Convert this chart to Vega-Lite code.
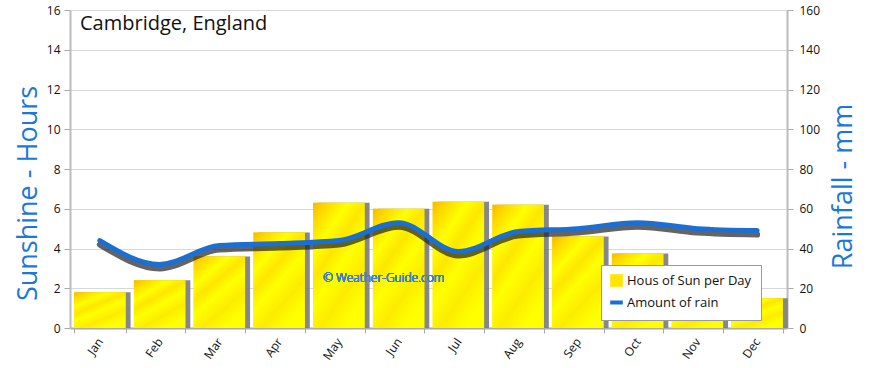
{
  "$schema": "https://vega.github.io/schema/vega-lite/v6.json",
  "autosize": "none",
  "width": 717,
  "height": 318,
  "padding": {"left": 70, "top": 10, "right": 83, "bottom": 40},
  "background": "white",
  "config": {
    "font": "Open Sans",
    "view": {"stroke": null},
    "axis": {"labelFont": "Open Sans", "titleFont": "Open Sans"}
  },
  "title": {
    "text": "Cambridge, England",
    "anchor": "start",
    "frame": "group",
    "orient": "top",
    "offset": -30,
    "dx": 10,
    "fontSize": 20,
    "fontWeight": "normal",
    "color": "#111111",
    "font": "Open Sans"
  },
  "data": {
    "values": [
      {"month": "Jan", "sun": 1.8, "rain": 44, "s1": "Hous of Sun per Day", "s2": "Amount of rain"},
      {"month": "Feb", "sun": 2.4, "rain": 32, "s1": "Hous of Sun per Day", "s2": "Amount of rain"},
      {"month": "Mar", "sun": 3.6, "rain": 41.5, "s1": "Hous of Sun per Day", "s2": "Amount of rain"},
      {"month": "Apr", "sun": 4.8, "rain": 42.5, "s1": "Hous of Sun per Day", "s2": "Amount of rain"},
      {"month": "May", "sun": 6.3, "rain": 44, "s1": "Hous of Sun per Day", "s2": "Amount of rain"},
      {"month": "Jun", "sun": 6.0, "rain": 53, "s1": "Hous of Sun per Day", "s2": "Amount of rain"},
      {"month": "Jul", "sun": 6.35, "rain": 38.5, "s1": "Hous of Sun per Day", "s2": "Amount of rain"},
      {"month": "Aug", "sun": 6.2, "rain": 48.5, "s1": "Hous of Sun per Day", "s2": "Amount of rain"},
      {"month": "Sep", "sun": 4.6, "rain": 50, "s1": "Hous of Sun per Day", "s2": "Amount of rain"},
      {"month": "Oct", "sun": 3.75, "rain": 53, "s1": "Hous of Sun per Day", "s2": "Amount of rain"},
      {"month": "Nov", "sun": 2.1, "rain": 50, "s1": "Hous of Sun per Day", "s2": "Amount of rain"},
      {"month": "Dec", "sun": 1.5, "rain": 49, "s1": "Hous of Sun per Day", "s2": "Amount of rain"}
    ]
  },
  "encoding": {
    "x": {
      "field": "month",
      "type": "nominal",
      "sort": null,
      "scale": {"paddingInner": 0.14, "paddingOuter": 0.07},
      "axis": {
        "title": null,
        "labelAngle": -55,
        "labelAlign": "right",
        "labelBaseline": "middle",
        "labelFontSize": 12,
        "labelColor": "#111111",
        "labelPadding": 6,
        "tickBand": "extent",
        "tickColor": "#aaaaaa",
        "tickSize": 5,
        "domainColor": "#aaaaaa",
        "domainWidth": 2
      }
    }
  },
  "layer": [
    {
      "encoding": {
        "y": {
          "field": "sun",
          "type": "quantitative",
          "scale": {"domain": [0, 16]},
          "axis": {
            "title": "Sunshine - Hours",
            "titleFontSize": 27,
            "titleFontWeight": "normal",
            "titleColor": "#1a78dc",
            "titleAngle": -90,
            "titleX": -42,
            "titleY": 183,
            "titleAlign": "center",
            "titleBaseline": "middle",
            "values": [0, 2, 4, 6, 8, 10, 12, 14, 16],
            "labelFontSize": 12,
            "labelColor": "#111111",
            "labelPadding": 4,
            "tickColor": "#aaaaaa",
            "tickSize": 6,
            "domainColor": "#bbbbbb",
            "domainWidth": 2,
            "grid": true,
            "gridColor": "#d8d8d8",
            "gridWidth": 1
          }
        }
      },
      "layer": [
        {
          "mark": {"type": "bar", "color": "#7a7a7a", "xOffset": 5, "opacity": 0.9}
        },
        {
          "mark": {"type": "bar"},
          "encoding": {
            "color": {
              "field": "s1",
              "type": "nominal",
              "scale": {"domain": ["Hous of Sun per Day", "Amount of rain"], "range": ["#ffe600", "#1a6fd6"]},
              "legend": {
                "title": null,
                "orient": "none",
                "legendX": 531,
                "legendY": 255,
                "fillColor": "white",
                "strokeColor": "#999999",
                "padding": 9,
                "labelFontSize": 13,
                "labelColor": "#111111",
                "labelLimit": 300,
                "symbolSize": 160,
                "rowPadding": 6,
                "symbolStrokeWidth": 4,
                "encode": {
                  "symbols": {
                    "update": {
                      "shape": {"signal": "datum.value === 'Amount of rain' ? 'stroke' : 'square'"},
                      "strokeWidth": {"signal": "datum.value === 'Amount of rain' ? 4 : 0"}
                    }
                  }
                }
              }
            }
          }
        },
        {
          "mark": {
            "type": "bar",
            "fill": {
              "gradient": "linear",
              "x1": 0, "y1": 0, "x2": 0.6, "y2": 1,
              "stops": [
                {"offset": 0, "color": "#f7b800"},
                {"offset": 0.12, "color": "#ffd800"},
                {"offset": 0.3, "color": "#ffff00"},
                {"offset": 0.45, "color": "#fde600"},
                {"offset": 0.6, "color": "#ffff00"},
                {"offset": 0.8, "color": "#fcec00"},
                {"offset": 1, "color": "#ffff00"}
              ]
            }
          }
        }
      ]
    },
    {
      "encoding": {
        "y": {
          "field": "rain",
          "type": "quantitative",
          "scale": {"domain": [0, 160]},
          "axis": {
            "orient": "right",
            "title": "Rainfall - mm",
            "titleFontSize": 27,
            "titleFontWeight": "normal",
            "titleColor": "#1a78dc",
            "titleAngle": -90,
            "titleX": 56,
            "titleY": 176,
            "titleAlign": "center",
            "titleBaseline": "middle",
            "values": [0, 20, 40, 60, 80, 100, 120, 140, 160],
            "labelFontSize": 12,
            "labelColor": "#111111",
            "labelPadding": 6,
            "tickColor": "#aaaaaa",
            "tickSize": 6,
            "domainColor": "#bbbbbb",
            "domainWidth": 2,
            "grid": false
          }
        }
      },
      "layer": [
        {
          "mark": {"type": "line", "interpolate": "monotone", "color": "#222222", "strokeWidth": 6, "yOffset": 4, "opacity": 0.7, "strokeCap": "round"}
        },
        {
          "mark": {"type": "line", "interpolate": "monotone", "strokeWidth": 5, "strokeCap": "round"},
          "encoding": {
            "color": {"field": "s2", "type": "nominal"}
          }
        },
        {
          "mark": {"type": "text", "text": "© Weather-Guide.com", "color": "#3a7fd0", "fontSize": 12, "fontWeight": 300, "align": "center", "baseline": "middle", "xOffset": -15},
          "encoding": {
            "x": {"datum": "Jun"},
            "y": {"datum": 25}
          }
        }
      ]
    }
  ],
  "resolve": {"scale": {"y": "independent"}}
}
